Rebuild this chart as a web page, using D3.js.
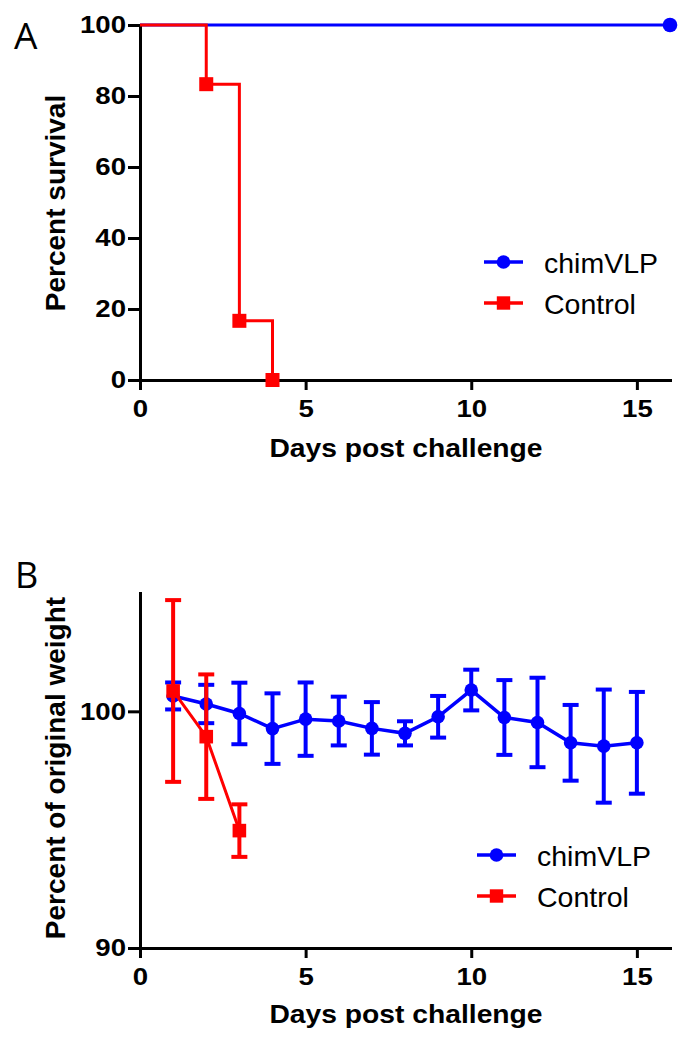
<!DOCTYPE html>
<html><head><meta charset="utf-8">
<script src="https://cdn.jsdelivr.net/npm/d3@7"></script>
<style>body{margin:0;background:#fff} svg{display:block}</style>
</head><body>
<svg id="c" width="696" height="1050"></svg>
<script>
// ---- Data ----
const seriesNames = ["chimVLP", "Control"];
// Panel A: survival (Kaplan-Meier steps)
const survChimDays = [0, 16];
const survChimVals = [100, 100];
const survCtrlDays = [0, 2, 3, 4];
const survCtrlVals = [100, 83.33, 16.67, 0];
// Panel B: weight (mean +/- error)
const wChimDays = [1, 2, 3, 4, 5, 6, 7, 8, 9, 10, 11, 12, 13, 14, 15];
const wChimMean = [100.65, 100.31, 99.91, 99.27, 99.67, 99.59, 99.28, 99.07, 99.77, 100.90, 99.74, 99.53, 98.67, 98.53, 98.67];
const wChimErr  = [0.57, 0.81, 1.30, 1.49, 1.55, 1.03, 1.11, 0.51, 0.88, 0.86, 1.58, 1.89, 1.60, 2.39, 2.15];
const wCtrlDays = [1, 2, 3];
const wCtrlMean = [100.86, 98.93, 94.96];
const wCtrlErr  = [3.84, 2.63, 1.11];
// Ticks
const xTickVals = [0, 5, 10, 15];
const yTickValsA = [0, 20, 40, 60, 80, 100];
const yTickValsB = [90, 100];

// ---- Setup ----
const BLUE = "#0000ff", RED = "#ff0000";
const FONT = "'Liberation Sans', Arial, Helvetica, sans-serif";
const STRETCH = 1.15;
const svg = d3.select("#c");

function stretch(sel, k) {
  sel.each(function () {
    const l = this.getComputedTextLength();
    this.setAttribute("textLength", l * k);
    this.setAttribute("lengthAdjust", "spacingAndGlyphs");
  });
}

const x = d3.scaleLinear().domain([0, 16]).range([140, 670]);
const yA = d3.scaleLinear().domain([0, 100]).range([380, 25]);
const yB = d3.scaleLinear().domain([90, 105]).range([948, 593]);

function drawAxes(y, yTicks, axisY, titleY, yTitle, yTitleCenter) {
  const gx = svg.append("g").attr("transform", `translate(0,${axisY})`)
    .call(d3.axisBottom(x).tickValues(xTickVals).tickSize(10).tickPadding(10).tickSizeOuter(0));
  const gy = svg.append("g").attr("transform", `translate(140,0)`)
    .call(d3.axisLeft(y).tickValues(yTicks).tickSize(12).tickPadding(2).tickSizeOuter(0));
  [gx, gy].forEach(g => {
    g.select(".domain").attr("stroke", "#000").attr("stroke-width", 3).attr("stroke-linecap", "square");
    g.selectAll(".tick line").attr("stroke", "#000").attr("stroke-width", 3);
    g.selectAll(".tick text").attr("fill", "#000").style("font-family", FONT)
      .style("font-weight", "bold").style("font-size", "24px");
    stretch(g.selectAll(".tick text"), STRETCH);
  });
  const xt = svg.append("text").attr("x", (140 + 670) / 2 + 1).attr("y", titleY)
    .attr("text-anchor", "middle").style("font-family", FONT).style("font-weight", "bold")
    .style("font-size", "25px").text("Days post challenge");
  stretch(xt, 1.13);
  svg.append("text").attr("transform", `translate(65,${yTitleCenter}) rotate(-90)`)
    .attr("text-anchor", "middle").style("font-family", FONT).style("font-weight", "bold")
    .style("font-size", "28px").text(yTitle);
}

function legend(lx, ly) {
  const rows = [{name: seriesNames[0], c: BLUE, m: "circle"}, {name: seriesNames[1], c: RED, m: "square"}];
  rows.forEach((r, i) => {
    const yy = ly + i * 41;
    svg.append("line").attr("x1", lx).attr("x2", lx + 39).attr("y1", yy).attr("y2", yy)
      .attr("stroke", r.c).attr("stroke-width", 3.5);
    if (r.m === "circle") svg.append("circle").attr("cx", lx + 19.5).attr("cy", yy).attr("r", 6.8).attr("fill", r.c);
    else svg.append("rect").attr("x", lx + 19.5 - 6.7).attr("y", yy - 6.7).attr("width", 13.4).attr("height", 13.4).attr("fill", r.c);
    svg.append("text").attr("x", lx + 60).attr("y", yy + 10.5).style("font-family", FONT)
      .style("font-size", "28.5px").attr("fill", "#000").text(r.name);
  });
}

// ---- Panel A ----
svg.append("text").attr("x", 14).attr("y", 49).style("font-family", "'Open Sans', sans-serif")
  .style("font-size", "37px").text("A");

const stepLine = d3.line().x(d => x(d[0])).y(d => yA(d[1])).curve(d3.curveStepAfter);
const chimA = survChimDays.map((d, i) => [d, survChimVals[i]]);
const ctrlA = survCtrlDays.map((d, i) => [d, survCtrlVals[i]]);

svg.append("path").attr("d", stepLine(chimA)).attr("fill", "none").attr("stroke", BLUE).attr("stroke-width", 3);
svg.append("circle").attr("cx", x(chimA[chimA.length - 1][0])).attr("cy", yA(chimA[chimA.length - 1][1]))
  .attr("r", 7.3).attr("fill", BLUE);

drawAxes(yA, yTickValsA, 380, 457, "Percent survival", 203);

svg.append("path").attr("d", stepLine(ctrlA)).attr("fill", "none").attr("stroke", RED).attr("stroke-width", 3);
svg.selectAll(".sqA").data(ctrlA.slice(1)).join("rect")
  .attr("x", d => x(d[0]) - 7).attr("y", d => yA(d[1]) - 7).attr("width", 14).attr("height", 14).attr("fill", RED);

legend(484, 262);

// ---- Panel B ----
svg.append("text").attr("x", 15).attr("y", 588).style("font-family", "'Open Sans', sans-serif")
  .style("font-size", "36px").text("B");

drawAxes(yB, yTickValsB, 948, 1023, "Percent of original weight", 768);

function series(days, mean, err, color, marker, lw) {
  const pts = days.map((d, i) => ({d, m: mean[i], e: err[i]}));
  const g = svg.append("g");
  const eb = g.selectAll(".eb").data(pts).join("g");
  eb.append("line").attr("x1", p => x(p.d)).attr("x2", p => x(p.d))
    .attr("y1", p => yB(p.m - p.e)).attr("y2", p => yB(p.m + p.e)).attr("stroke", color).attr("stroke-width", 4);
  eb.append("line").attr("x1", p => x(p.d) - 8).attr("x2", p => x(p.d) + 8)
    .attr("y1", p => yB(p.m + p.e)).attr("y2", p => yB(p.m + p.e)).attr("stroke", color).attr("stroke-width", 4);
  eb.append("line").attr("x1", p => x(p.d) - 8).attr("x2", p => x(p.d) + 8)
    .attr("y1", p => yB(p.m - p.e)).attr("y2", p => yB(p.m - p.e)).attr("stroke", color).attr("stroke-width", 4);
  g.append("path").attr("d", d3.line().x(p => x(p.d)).y(p => yB(p.m))(pts))
    .attr("fill", "none").attr("stroke", color).attr("stroke-width", lw);
  if (marker === "circle") {
    g.selectAll(".pt").data(pts).join("circle").attr("cx", p => x(p.d)).attr("cy", p => yB(p.m)).attr("r", 6.8).attr("fill", color);
  } else {
    g.selectAll(".pt").data(pts).join("rect").attr("x", p => x(p.d) - 6.8).attr("y", p => yB(p.m) - 6.8)
      .attr("width", 13.6).attr("height", 13.6).attr("fill", color);
  }
}
series(wChimDays, wChimMean, wChimErr, BLUE, "circle", 3.5);
series(wCtrlDays, wCtrlMean, wCtrlErr, RED, "square", 3);

legend(477, 855);
</script>
</body></html>
